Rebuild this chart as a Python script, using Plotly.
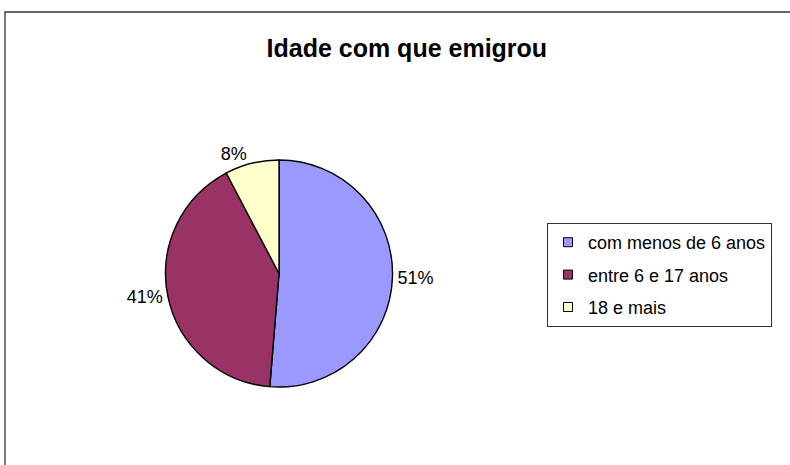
import plotly.graph_objects as go

# dados do gráfico
categorias = ["com menos de 6 anos", "entre 6 e 17 anos", "18 e mais"]
percentagens = [51.3, 41.0, 7.7]
cores = ["#9999FF", "#993366", "#FFFFCC"]

FONTE = "Arial, Liberation Sans"

fig = go.Figure()

fig.add_trace(go.Pie(
    labels=categorias,
    values=percentagens,
    marker=dict(colors=cores, line=dict(color="black", width=1.4)),
    sort=False,
    direction="clockwise",
    rotation=0,
    textposition="outside",
    texttemplate="%{percent:.0%}",
    textfont=dict(family=FONTE, size=18, color="black"),
    domain=dict(x=[0.2089, 0.4975], y=[0.1677, 0.6559]),
    showlegend=False,
))

# legenda com espaçamento maior (uma entrada por grupo)
for nome, cor in zip(categorias, cores):
    fig.add_trace(go.Scatter(
        x=[None], y=[None], mode="markers", name=nome, legendgroup=nome,
        marker=dict(symbol="square", size=9, color=cor,
                    line=dict(color="black", width=1)),
    ))

# moldura da área do gráfico (estilo Excel)
fig.add_shape(
    type="rect", xref="paper", yref="paper",
    x0=5 / 790, x1=1.05, y0=-0.05, y1=1 - 12 / 465,
    line=dict(color="#333333", width=1.3),
)

fig.update_layout(
    width=790,
    height=465,
    margin=dict(l=0, r=0, t=0, b=0),
    paper_bgcolor="white",
    plot_bgcolor="white",
    font=dict(family=FONTE, color="black"),
    xaxis=dict(visible=False),
    yaxis=dict(visible=False),
    title=dict(
        text="<b>Idade com que emigrou</b>",
        x=0.515, y=1 - 48 / 465,
        xanchor="center", yanchor="middle",
        font=dict(size=25, color="black"),
    ),
    legend=dict(
        x=547 / 790, y=1 - 223 / 465,
        xanchor="left", yanchor="top",
        bordercolor="#333333", borderwidth=1,
        font=dict(size=18, color="black"),
        bgcolor="white",
        tracegroupgap=6,
        entrywidth=250,
    ),
)

fig.write_html(
    "out.html",
    config={"displayModeBar": False},
    post_script="document.body.style.margin='0';",
)
